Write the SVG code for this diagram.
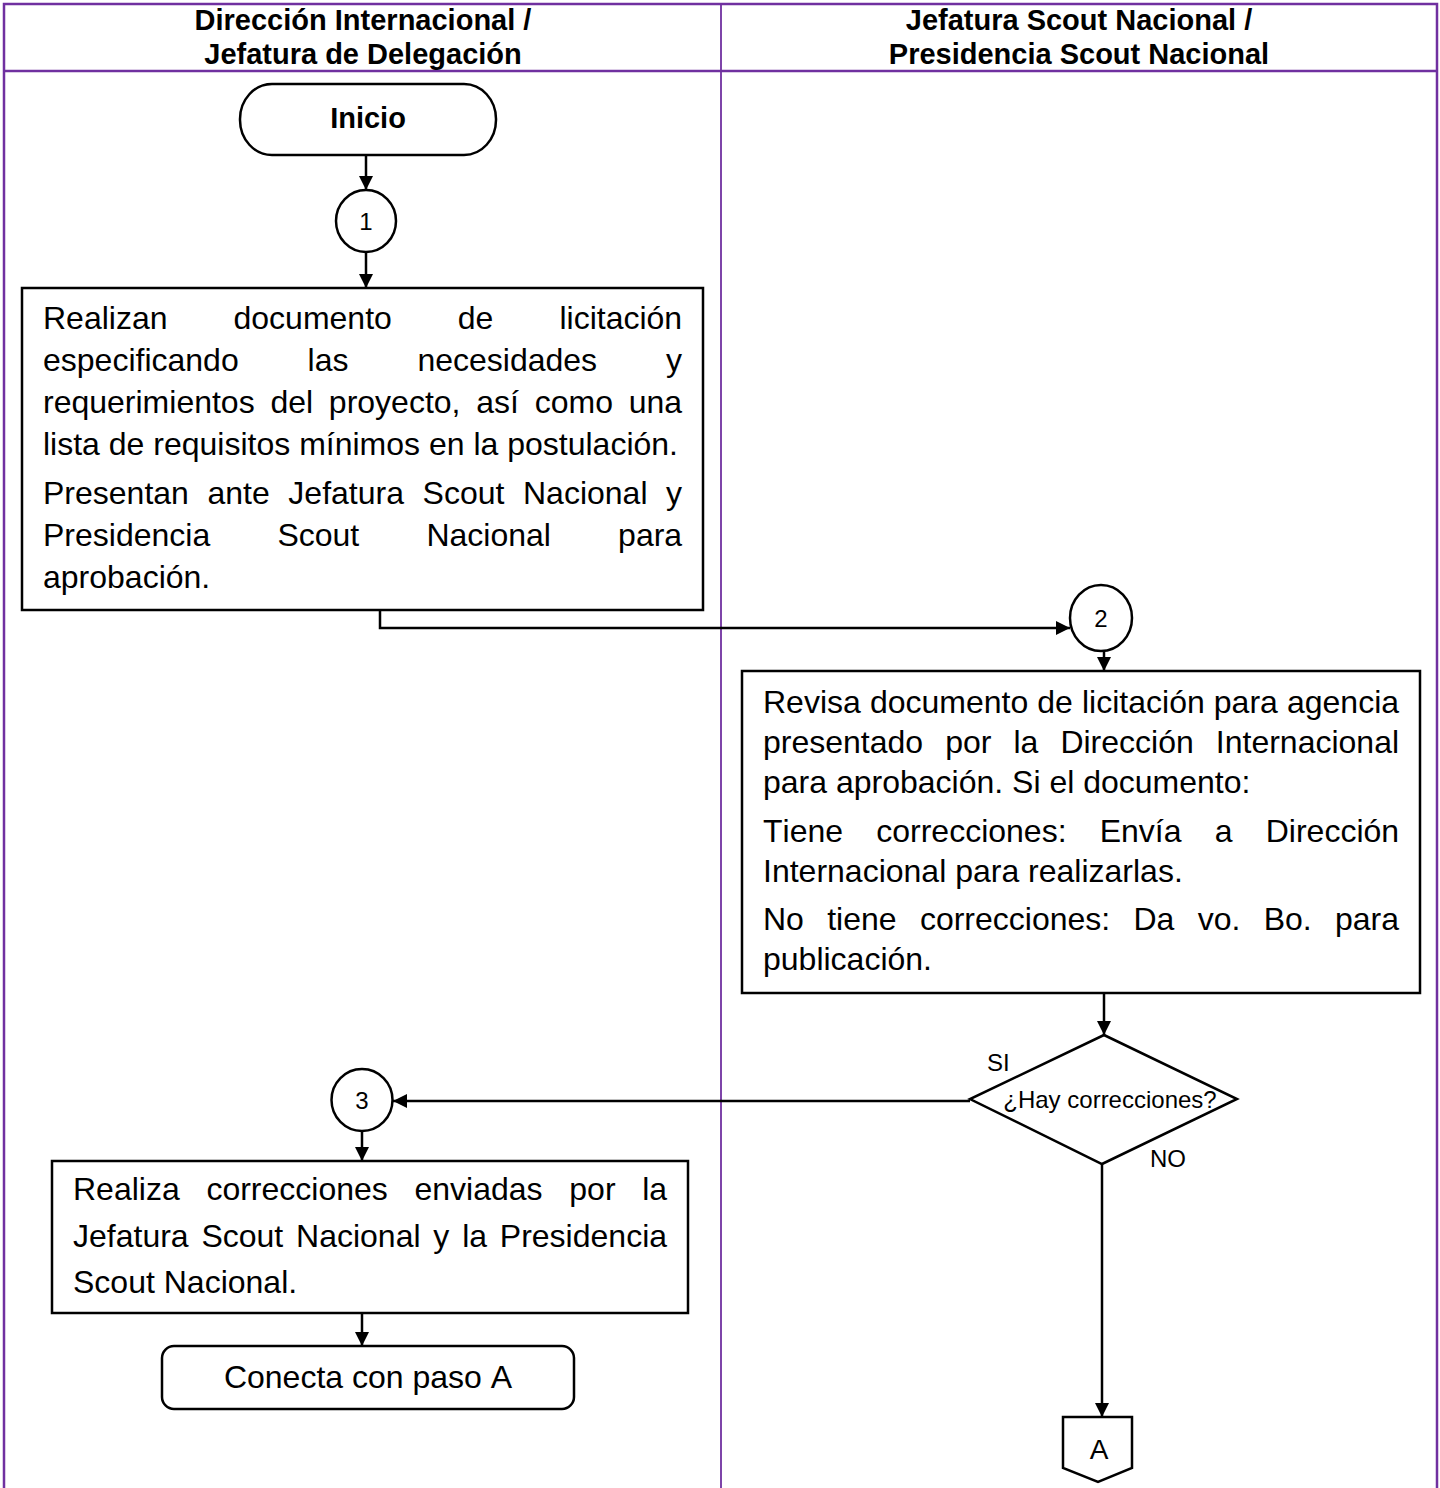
<svg xmlns="http://www.w3.org/2000/svg" width="1440" height="1488" viewBox="0 0 1440 1488">
  <defs>
    <marker id="arrow" markerUnits="userSpaceOnUse" markerWidth="14" markerHeight="14" refX="14" refY="7" orient="auto">
      <path d="M0,0 L14,7 L0,14 Z" fill="#000"/>
    </marker>
  </defs>
  <style>
    text { font-family: "Liberation Sans", Arial, sans-serif; fill: #000; font-kerning: none; }
    .hdr { font-size: 29px; font-weight: bold; text-anchor: middle; }
    .title { font-size: 29px; font-weight: bold; text-anchor: middle; }
    .body { font-size: 32px; }
    .num { font-size: 24px; text-anchor: middle; }
    .small { font-size: 24px; }
    .shape { fill: #fff; stroke: #000; stroke-width: 2.5; }
    .lane { fill: none; stroke: #7030A0; stroke-width: 2.5; }
    .divider { stroke: #7030A0; stroke-width: 1.8; }
    .conn { fill: none; stroke: #000; stroke-width: 2.5; marker-end: url(#arrow); }
  </style>

  <rect width="1440" height="1488" fill="#fff"/>

  <!-- swimlanes -->
  <g id="lanes">
    <path class="lane" d="M4,1500 V4 H1437 V1500"/>
    <line class="lane" x1="4" y1="71" x2="1437" y2="71"/>
    <line class="divider" x1="721" y1="4" x2="721" y2="1500"/>
    <text class="hdr" x="363" y="30">Dirección Internacional /</text>
    <text class="hdr" x="363" y="64">Jefatura de Delegación</text>
    <text class="hdr" x="1079" y="30">Jefatura Scout Nacional /</text>
    <text class="hdr" x="1079" y="64">Presidencia Scout Nacional</text>
  </g>

  <!-- connectors -->
  <g id="connectors">
    <path class="conn" d="M366,155 V190"/>
    <path class="conn" d="M366,253 V288"/>
    <path class="conn" d="M380,610 V628 H1070"/>
    <path class="conn" d="M1104,651 V671"/>
    <path class="conn" d="M1104,993 V1035"/>
    <path class="conn" d="M970,1101 H393"/>
    <path class="conn" d="M362,1131 V1161"/>
    <path class="conn" d="M362,1313 V1346"/>
    <path class="conn" d="M1102,1164 V1417"/>
  </g>

  <g id="inicio">
    <rect class="shape" x="240" y="84" width="256" height="71" rx="32" ry="35"/>
    <text class="title" x="368" y="128">Inicio</text>
  </g>

  <g id="paso1">
    <ellipse class="shape" cx="366" cy="221" rx="30" ry="31"/>
    <text class="num" x="366" y="230">1</text>
  </g>

  <g id="elaborar-documento">
    <rect class="shape" x="22" y="288" width="681" height="322"/>
    <text class="body" x="43" y="329" word-spacing="57.1">Realizan documento de licitación</text>
    <text class="body" x="43" y="371" word-spacing="60">especificando las necesidades y</text>
    <text class="body" x="43" y="413" word-spacing="6.86">requerimientos del proyecto, así como una</text>
    <text class="body" x="43" y="455">lista de requisitos mínimos en la postulación.</text>
    <text class="body" x="43" y="504" word-spacing="9.7">Presentan ante Jefatura Scout Nacional y</text>
    <text class="body" x="43" y="546" word-spacing="58.3">Presidencia Scout Nacional para</text>
    <text class="body" x="43" y="588">aprobación.</text>
  </g>

  <g id="paso2">
    <ellipse class="shape" cx="1101" cy="618" rx="31" ry="33"/>
    <text class="num" x="1101" y="627">2</text>
  </g>

  <g id="revisar-documento">
    <rect class="shape" x="742" y="671" width="678" height="322"/>
    <text class="body" x="763" y="713" word-spacing="0.2">Revisa documento de licitación para agencia</text>
    <text class="body" x="763" y="753" word-spacing="13.15">presentado por la Dirección Internacional</text>
    <text class="body" x="763" y="793">para aprobación. Si el documento:</text>
    <text class="body" x="763" y="842" word-spacing="24.3">Tiene correcciones: Envía a Dirección</text>
    <text class="body" x="763" y="882">Internacional para realizarlas.</text>
    <text class="body" x="763" y="930" word-spacing="14.4">No tiene correcciones: Da vo. Bo. para</text>
    <text class="body" x="763" y="970">publicación.</text>
  </g>

  <g id="decision">
    <polygon class="shape" points="1104,1035 1237,1099 1102,1164 970,1099"/>
    <text class="small" x="1110" y="1108" text-anchor="middle">¿Hay correcciones?</text>
    <text class="small" x="987" y="1071" font-size="25">SI</text>
    <text class="small" x="1150" y="1167" font-size="25">NO</text>
  </g>

  <g id="paso3">
    <ellipse class="shape" cx="362" cy="1100" rx="30.5" ry="31"/>
    <text class="num" x="362" y="1109">3</text>
  </g>

  <g id="realizar-correcciones">
    <rect class="shape" x="52" y="1161" width="636" height="152"/>
    <text class="body" x="73" y="1200" word-spacing="17.8">Realiza correcciones enviadas por la</text>
    <text class="body" x="73" y="1247" word-spacing="3.9">Jefatura Scout Nacional y la Presidencia</text>
    <text class="body" x="73" y="1293">Scout Nacional.</text>
  </g>

  <g id="conecta-paso-a">
    <rect class="shape" x="162" y="1346" width="412" height="63" rx="12" ry="12"/>
    <text class="body" x="368" y="1388" text-anchor="middle">Conecta con paso A</text>
  </g>

  <g id="conector-a">
    <polygon class="shape" points="1063,1417 1132,1417 1132,1468 1098,1482 1063,1468"/>
    <text x="1099" y="1459" font-size="28" text-anchor="middle">A</text>
  </g>
</svg>
